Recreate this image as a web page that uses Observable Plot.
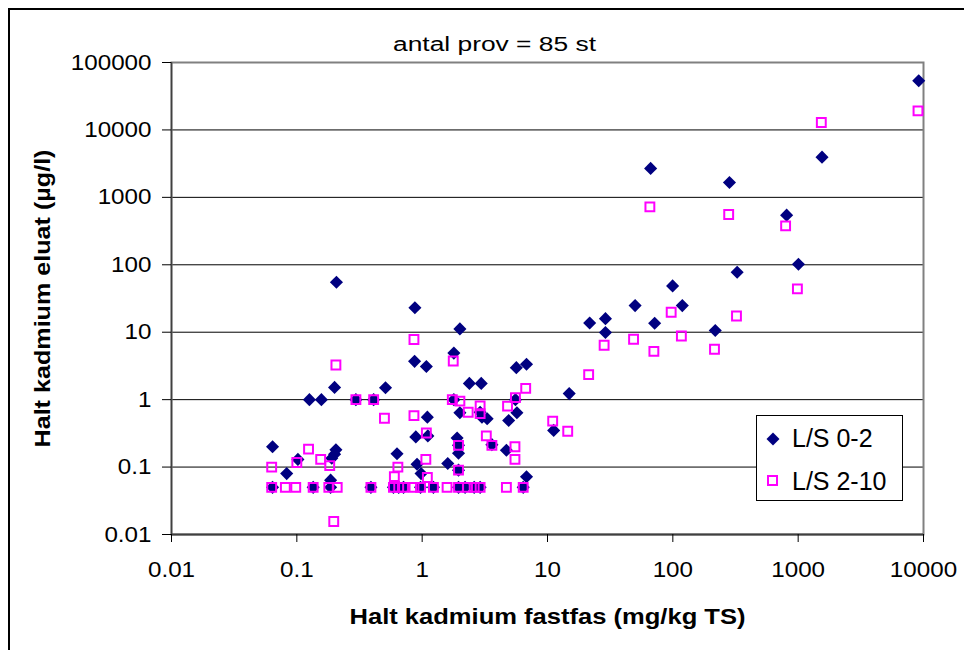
<!DOCTYPE html>
<html>
<head>
<meta charset="utf-8">
<script src="https://cdn.jsdelivr.net/npm/d3@7"></script>
<script src="https://cdn.jsdelivr.net/npm/@observablehq/plot@0.6"></script>
<style>
  html, body { margin: 0; padding: 0; background: #fff; }
  #wrap { position: relative; width: 964px; height: 650px; overflow: hidden; font-family: "Liberation Sans", Arial, sans-serif; }
  #outer { position: absolute; left: 8px; top: 8px; width: 970px; height: 660px; border-top: 2px solid #000; border-left: 2px solid #000; pointer-events: none; }
  #legend { position: absolute; left: 756px; top: 415px; }
</style>
</head>
<body>
<div id="wrap"><div id="chart"></div><div id="outer"></div><svg id="legend" width="148" height="87"></svg></div>
<script>
// Chart text
const title = "antal prov = 85 st";
const xLabel = "Halt kadmium fastfas (mg/kg TS)";
const yLabel = "Halt kadmium eluat (µg/l)";
const seriesNames = ["L/S 0-2", "L/S 2-10"];

// Tick values
const xTicks = [0.01, 0.1, 1, 10, 100, 1000, 10000];
const yTicks = [0.01, 0.1, 1, 10, 100, 1000, 10000, 100000];

// Series L/S 0-2 (blue diamonds)
const blueX = [
  0.207, 0.875, 0.87, 1.08, 0.2, 0.126, 0.157, 0.296, 0.41, 0.51, 1.1, 0.89, 1.11,
  0.064, 0.083, 0.102, 0.205, 0.2, 0.19, 0.186, 0.63, 0.91, 0.98,
  0.064, 0.135, 0.186, 0.39, 0.59, 0.65, 0.71, 0.97, 1.23, 1.95, 2.2, 2.6, 2.9, 6.4,
  2.0, 1.79, 5.64, 6.8, 2.38, 2.96, 14.9, 1.79, 5.55, 2.9, 2.0, 3.0, 3.3, 5.7, 4.9,
  11.2, 3.6, 1.9, 1.95, 1.95, 4.7, 1.6, 1.95, 6.8,
  66.5, 283, 809, 1005, 326, 99.6, 50, 119, 21.7, 29, 29, 71.6, 218, 1550, 9160
];
const blueY = [
  55, 23, 3.7, 3.1, 1.52, 1, 1, 1, 1, 1.5, 0.55, 0.28, 0.29,
  0.2, 0.08, 0.13, 0.18, 0.155, 0.135, 0.064, 0.158, 0.11, 0.08,
  0.05, 0.05, 0.05, 0.05, 0.05, 0.05, 0.05, 0.05, 0.05, 0.05, 0.05, 0.05, 0.05, 0.05,
  11.2, 4.9, 2.98, 3.35, 1.74, 1.74, 1.23, 1.0, 1.0, 0.65, 0.64, 0.55, 0.52, 0.64, 0.49,
  0.35, 0.215, 0.27, 0.21, 0.16, 0.178, 0.113, 0.09, 0.072,
  2690, 1660, 545, 102, 77.6, 48.6, 24.8, 24.8, 13.7, 15.9, 9.9, 13.6, 10.6, 3950, 53700
];

// Series L/S 2-10 (magenta squares)
const pinkX = [
  0.205, 0.86, 0.296, 0.41, 0.5, 0.86, 1.08, 0.063, 0.124, 0.1, 0.155, 0.183, 0.64, 1.07, 0.6, 1.1, 0.197,
  0.063, 0.081, 0.098, 0.135, 0.18, 0.21, 0.39, 0.59, 0.65, 0.71, 0.86, 0.97, 1.23, 1.58, 1.95, 2.3, 2.6, 2.9, 4.7, 6.4,
  1.77, 6.7, 5.55, 1.74, 2.0, 2.33, 2.9, 2.9, 4.8, 3.25, 3.6, 1.95, 5.5, 5.5, 11, 14.5, 1.95,
  9040, 1530, 65.6, 279, 794, 986, 322, 97, 117, 48.6, 70.6, 215, 28.3, 21.3
];
const pinkY = [
  3.26, 7.8, 1, 1, 0.53, 0.58, 0.32, 0.1, 0.185, 0.117, 0.13, 0.105, 0.1, 0.13, 0.072, 0.07, 0.0156,
  0.05, 0.05, 0.05, 0.05, 0.05, 0.05, 0.05, 0.05, 0.05, 0.05, 0.05, 0.05, 0.05, 0.05, 0.05, 0.05, 0.05, 0.05, 0.05, 0.05,
  3.74, 1.47, 1.07, 1.0, 0.95, 0.65, 0.81, 0.62, 0.8, 0.29, 0.21, 0.21, 0.2, 0.13, 0.48, 0.34, 0.09,
  19200, 12900, 723, 557, 378, 43.9, 17.4, 19.8, 8.8, 7.85, 5.2, 5.58, 6.4, 2.35
];

const blue = blueX.map((x, i) => ({x, y: blueY[i]}));
const pink = pinkX.map((x, i) => ({x, y: pinkY[i]}));
const fmt = d => String(d);

const chart = Plot.plot({
  width: 964,
  height: 650,
  marginLeft: 171,
  marginRight: 41,
  marginTop: 62,
  marginBottom: 116,
  style: {fontFamily: "'Liberation Sans', Arial, sans-serif", fontSize: "22px", background: "transparent", overflow: "visible"},
  x: {type: "log", domain: [0.01, 10000]},
  y: {type: "log", domain: [0.01, 100000]},
  marks: [
    Plot.gridY(yTicks, {stroke: "#000", strokeOpacity: 1, strokeWidth: 1}),
    Plot.frame({stroke: "#808080", strokeWidth: 2}),
    Plot.ruleY([0.01], {stroke: "#404040", strokeWidth: 2}),
    Plot.ruleX([0.01], {stroke: "#404040", strokeWidth: 1.5}),
    Plot.axisY(yTicks, {tickSize: 9, tickPadding: 11, tickFormat: fmt, label: null, fontSize: 22, stroke: "#000"}),
    Plot.axisX(xTicks, {tickSize: 8, tickPadding: 19, tickFormat: fmt, label: null, fontSize: 22, stroke: "#000"}),
    Plot.dot(blue, {x: "x", y: "y", symbol: "diamond2", r: 5.9, fill: "#000080", stroke: "none"}),
    Plot.dot(pink, {x: "x", y: "y", symbol: "square", r: 5, fill: "none", stroke: "#FF00FF", strokeWidth: 2}),
    Plot.text([title], {frameAnchor: "top", lineAnchor: "middle", textAnchor: "middle", dy: -18, dx: -53, fontSize: 20, fill: "#000"}),
    Plot.text([xLabel], {frameAnchor: "bottom", lineAnchor: "middle", textAnchor: "middle", dy: 82, fontSize: 22, fontWeight: "bold", fill: "#000"}),
    Plot.text([yLabel], {frameAnchor: "left", lineAnchor: "middle", textAnchor: "middle", dx: -129, rotate: -90, fontSize: 22, fontWeight: "bold", fill: "#000"})
  ]
});
document.getElementById("chart").appendChild(chart);

// Widen text a little to match the reference's proportions
const svg = d3.select(chart.tagName.toLowerCase() === "svg" ? chart : chart.querySelector("svg"));
function stretchTo(sel, target) {
  sel.each(function () {
    const L = this.getComputedTextLength();
    if (L > 0) {
      this.setAttribute("textLength", target(L));
      this.setAttribute("lengthAdjust", "spacingAndGlyphs");
    }
  });
}
const byText = s => svg.selectAll("text").filter(function () { return this.textContent === s; });
svg.selectAll('g[aria-label="y-axis tick label"], g[aria-label="x-axis tick label"]').attr("font-size", 22);
stretchTo(svg.selectAll('g[aria-label="y-axis tick label"] text, g[aria-label="x-axis tick label"] text'), L => L * 1.1);
stretchTo(byText(title), () => 203);
stretchTo(byText(xLabel), () => 396);
stretchTo(byText(yLabel), () => 298);

// Legend
const lg = d3.select("#legend");
lg.append("rect").attr("x", 0.5).attr("y", 0.5).attr("width", 146).attr("height", 85)
  .attr("fill", "#fff").attr("stroke", "#000").attr("stroke-width", 1);
const dia = d3.symbol(d3.symbolDiamond2, 107);
lg.append("path").attr("d", dia()).attr("transform", "translate(17,24)").attr("fill", "#000080");
lg.append("rect").attr("x", 12).attr("y", 61).attr("width", 9).attr("height", 9)
  .attr("fill", "none").attr("stroke", "#FF00FF").attr("stroke-width", 2);
lg.selectAll("text.lab").data(seriesNames).join("text").attr("class", "lab")
  .attr("x", 36).attr("y", (d, i) => 32 + i * 43)
  .attr("font-family", "'Liberation Sans', Arial, sans-serif").attr("font-size", 25).attr("fill", "#000")
  .text(d => d);
</script>
</body>
</html>
